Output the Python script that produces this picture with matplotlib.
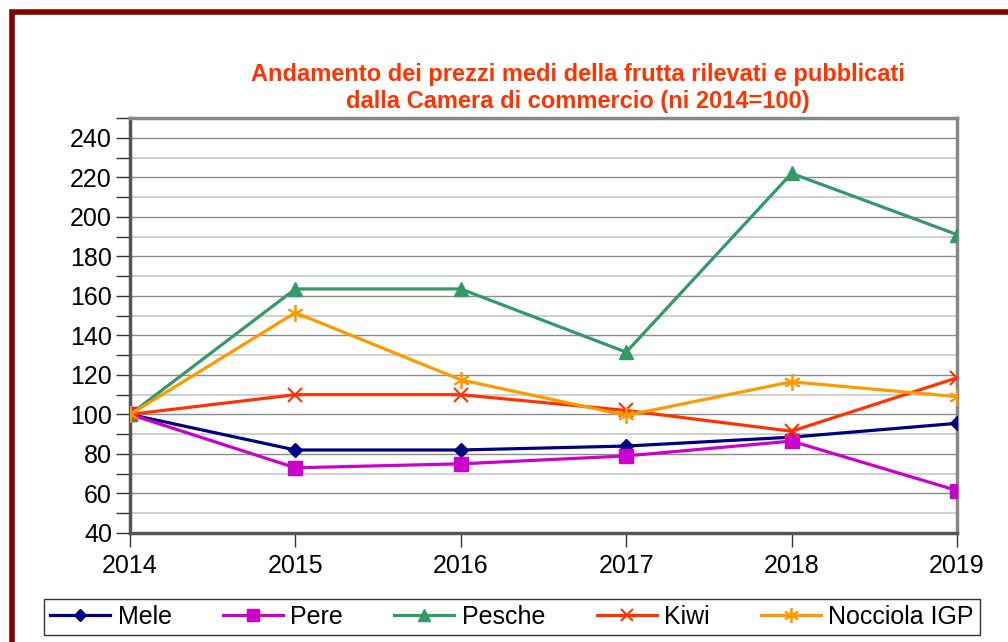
### Import modules
import numpy as np
import matplotlib.pyplot as plt
from matplotlib.patches import Rectangle
from matplotlib.ticker import MultipleLocator

### Data (indice 2014=100)
years = [2014, 2015, 2016, 2017, 2018, 2019]
mele = [100, 82, 82, 84, 88.5, 95.5]
pere = [100, 73, 75, 79, 86.5, 61.5]
pesche = [100, 163.5, 163.5, 131.5, 222, 191]
kiwi = [100, 110, 110, 102, 91.5, 118.5]
nocciola = [100, 151.5, 117.5, 99.5, 116.5, 109]

plt.rcParams['font.family'] = ['Liberation Sans', 'DejaVu Sans']

fig = plt.figure(figsize=(10.08, 6.42), dpi=100)
ax = fig.add_axes([130/1008., 1-533/642., 827/1008., 415/642.])

### Dark red frame around the whole chart
fig.patches.append(Rectangle((12/1008., -0.2), 1.2, 1-12/642.+0.2,
                             transform=fig.transFigure, fill=False,
                             edgecolor='#800000', linewidth=4))

### Series
lw = 2.3
ax.plot(years, mele, color='#000080', lw=lw, marker='D', ms=7, label='Mele', zorder=3)
ax.plot(years, pere, color='#CC00CC', lw=lw, marker='s', ms=10, label='Pere', zorder=3)
ax.plot(years, pesche, color='#339966', lw=lw, marker='^', ms=10, label='Pesche', zorder=3)
ax.plot(years, kiwi, color='#FF3300', lw=lw, marker='x', ms=10, mew=1.5,
        label='Kiwi', zorder=3)
ax.plot(years, nocciola, color='#FF9900', lw=lw, marker=(6, 2, 0), ms=12, mew=1.3,
        label='Nocciola IGP', zorder=3)

### Axes
ax.set_xlim(2014, 2019)
ax.set_ylim(40, 250)
ax.set_xticks(years)
ax.set_yticks(np.arange(40, 241, 20))
ax.yaxis.set_minor_locator(MultipleLocator(10))
ax.yaxis.grid(True, which='major', color='#8c8c8c', lw=1.0, zorder=1)
ax.yaxis.grid(True, which='minor', color='#c8c8c8', lw=1.2, zorder=1)
ax.tick_params(axis='both', which='both', direction='out', length=10,
               width=1, color='#333333', labelsize=18)
ax.tick_params(axis='x', pad=5)
ax.tick_params(axis='y', pad=3)

for side in ['left', 'bottom']:
    ax.spines[side].set_color('#555555')
    ax.spines[side].set_linewidth(2.5)
for side in ['right', 'top']:
    ax.spines[side].set_color('#888888')
    ax.spines[side].set_linewidth(2.5)

### Title
fig.text(578/1008., 1-88/642., 'Andamento dei prezzi medi della frutta rilevati e pubblicati\n'
         'dalla Camera di commercio (ni 2014=100)', color='#FF3300',
         fontsize=17, fontweight='bold', ha='center', va='center',
         linespacing=1.2)

### Legend
le = fig.legend(loc='center', bbox_to_anchor=(512/1008., 1-617/642.), ncol=5,
                fontsize=18, frameon=True, fancybox=False, handlelength=2.4,
                columnspacing=2.05, handletextpad=0.3, borderpad=0.25,
                markerscale=0.9)
le.get_frame().set_edgecolor('black')
le.get_frame().set_linewidth(1.0)

plt.savefig('out.png', dpi=100)
